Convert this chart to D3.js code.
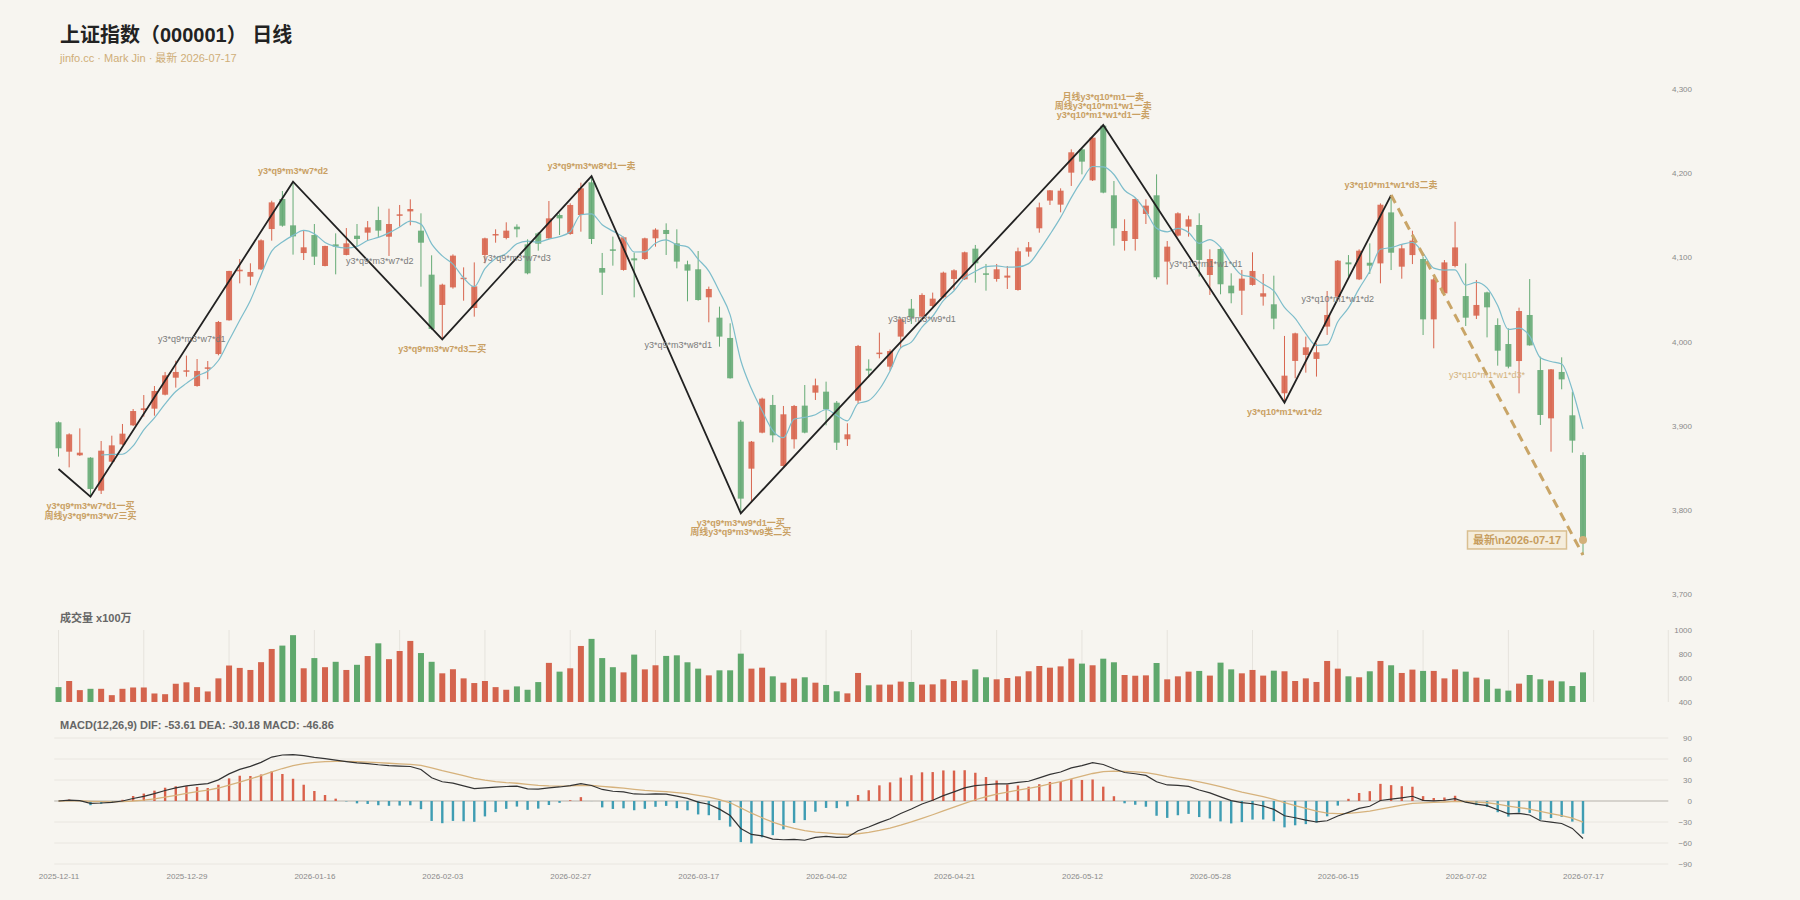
<!DOCTYPE html>
<html>
<head>
<meta charset="utf-8">
<script src="https://cdnjs.cloudflare.com/ajax/libs/d3/7.8.5/d3.min.js"></script>
<style>
  body { margin: 0; background: #f7f5f0; }
  svg text { font-family: "Liberation Sans", Arial, "Noto Sans CJK SC", sans-serif; }
</style>
</head>
<body>
<div id="chart"></div>
<script>
// trading days, grouped by month
const tradeMonths = [
  ['2025-12', [11, 12, 15, 16, 17, 18, 19, 22, 23, 24, 25, 26, 29, 30, 31]],
  ['2026-01', [5, 6, 7, 8, 9, 12, 13, 14, 15, 16, 19, 20, 21, 22, 23, 26, 27, 28, 29, 30]],
  ['2026-02', [2, 3, 4, 5, 6, 9, 10, 11, 12, 13, 24, 25, 26, 27]],
  ['2026-03', [2, 3, 4, 5, 6, 9, 10, 11, 12, 13, 16, 17, 18, 19, 20, 23, 24, 25, 26, 27, 30, 31]],
  ['2026-04', [1, 2, 3, 7, 8, 9, 10, 13, 14, 15, 16, 17, 20, 21, 22, 23, 24, 27, 28, 29, 30]],
  ['2026-05', [6, 7, 8, 11, 12, 13, 14, 15, 18, 19, 20, 21, 22, 25, 26, 27, 28, 29]],
  ['2026-06', [1, 2, 3, 4, 5, 8, 9, 10, 11, 12, 15, 16, 17, 18, 22, 23, 24, 25, 26, 29, 30]],
  ['2026-07', [1, 2, 3, 6, 7, 8, 9, 10, 13, 14, 15, 16, 17]]
];

const openPx = [
  3904.0, 3869.1, 3864.8, 3862.0, 3822.8, 3857.2, 3877.8, 3900.4, 3918.6, 3920.2,
  3936.8, 3957.0, 3964.2, 3947.1, 3967.7, 3985.1, 4025.2, 4083.4, 4077.0, 4085.7,
  4133.6, 4169.3, 4138.0, 4105.1, 4126.5, 4089.7, 4115.4, 4102.8, 4125.7, 4129.3,
  4144.3, 4124.5, 4149.5, 4154.6, 4131.7, 4079.4, 4043.4, 4064.3, 4074.2, 4039.8,
  4102.8, 4126.5, 4123.0, 4136.4, 4115.4, 4128.5, 4122.6, 4150.3, 4127.7, 4150.3,
  4189.1, 4087.3, 4109.5, 4085.0, 4098.8, 4098.0, 4122.6, 4132.5, 4116.6, 4091.7,
  4085.8, 4052.5, 4028.3, 4004.2, 3904.8, 3848.9, 3891.7, 3924.6, 3852.1, 3883.8,
  3923.8, 3939.2, 3940.4, 3927.3, 3883.8, 3929.7, 3967.7, 3985.2, 3970.1, 4005.8,
  4039.0, 4029.5, 4042.2, 4052.5, 4074.3, 4073.9, 4110.3, 4081.0, 4074.3, 4075.9,
  4061.2, 4106.8, 4134.5, 4167.4, 4162.6, 4200.6, 4228.3, 4191.5, 4256.4, 4173.7,
  4119.4, 4121.8, 4151.5, 4173.7, 4094.9, 4125.8, 4136.5, 4138.4, 4079.0, 4109.9,
  4066.4, 4060.4, 4067.2, 4053.3, 4044.2, 3938.5, 3976.9, 3984.0, 3979.3, 4017.7,
  4053.2, 4094.0, 4073.8, 4093.6, 4092.8, 4153.4, 4088.9, 4102.7, 4098.0, 4026.3,
  4057.2, 4089.7, 4054.0, 4030.7, 4058.4, 4019.6, 3997.0, 3976.8, 4031.5, 3966.1,
  3908.7, 3963.8, 3912.3, 3865.1
];

const highPx = [
  3905.0, 3890.9, 3896.8, 3862.5, 3881.8, 3888.1, 3902.0, 3919.8, 3936.4, 3947.1,
  3963.8, 3977.2, 3983.2, 3979.2, 3976.8, 4024.4, 4084.0, 4098.0, 4092.9, 4121.4,
  4167.3, 4178.8, 4189.9, 4132.5, 4139.6, 4113.8, 4128.5, 4134.8, 4139.6, 4143.1,
  4160.2, 4157.8, 4162.2, 4168.9, 4152.3, 4102.4, 4068.7, 4103.5, 4088.1, 4094.0,
  4123.4, 4133.3, 4141.6, 4139.2, 4121.4, 4130.1, 4166.9, 4152.3, 4164.2, 4188.7,
  4196.6, 4105.2, 4124.6, 4124.6, 4105.6, 4123.4, 4134.5, 4140.4, 4133.3, 4096.0,
  4107.5, 4065.2, 4041.4, 4021.6, 3906.8, 3881.8, 3933.3, 3936.5, 3923.4, 3924.6,
  3948.3, 3955.9, 3952.3, 3929.3, 3902.8, 3995.9, 3978.8, 4010.5, 3990.7, 4027.6,
  4050.5, 4057.3, 4058.1, 4083.0, 4085.8, 4106.8, 4114.7, 4092.1, 4092.1, 4089.7,
  4111.5, 4118.2, 4165.0, 4180.0, 4182.0, 4228.3, 4229.5, 4243.4, 4257.2, 4190.7,
  4145.2, 4170.1, 4168.9, 4198.6, 4119.4, 4153.5, 4149.5, 4152.3, 4109.5, 4110.7,
  4081.0, 4085.0, 4106.0, 4080.2, 4078.2, 4006.6, 4010.5, 4005.8, 3997.9, 4060.0,
  4096.8, 4102.7, 4109.5, 4116.6, 4164.1, 4174.0, 4115.8, 4131.6, 4100.8, 4075.8,
  4096.8, 4142.3, 4092.8, 4073.0, 4059.2, 4027.5, 4015.6, 4040.2, 4074.2, 3982.0,
  3967.3, 3981.2, 3940.4, 3868.3
];

const lowPx = [
  3863.2, 3850.5, 3864.0, 3815.7, 3818.8, 3856.4, 3877.0, 3899.6, 3910.7, 3911.9,
  3936.0, 3945.2, 3958.2, 3946.3, 3955.1, 3983.6, 4024.8, 4069.1, 4066.7, 4085.0,
  4119.8, 4136.4, 4103.2, 4096.8, 4090.9, 4089.3, 4079.8, 4102.4, 4112.7, 4119.8,
  4123.8, 4101.6, 4136.4, 4138.0, 4065.1, 4013.7, 4002.6, 4062.8, 4048.5, 4029.5,
  4092.9, 4117.4, 4121.4, 4123.8, 4079.8, 4107.9, 4121.8, 4126.5, 4126.9, 4130.5,
  4115.8, 4055.3, 4090.1, 4084.2, 4052.5, 4096.8, 4112.7, 4102.8, 4086.9, 4047.7,
  4048.5, 4022.8, 3993.9, 3955.9, 3795.9, 3808.6, 3890.9, 3880.2, 3851.3, 3872.7,
  3890.9, 3930.5, 3900.4, 3871.1, 3875.9, 3926.6, 3957.4, 3980.0, 3965.4, 3991.9,
  4020.8, 4028.7, 4040.6, 4051.3, 4061.2, 4073.1, 4069.9, 4060.4, 4071.1, 4062.4,
  4060.4, 4100.8, 4129.3, 4162.2, 4153.5, 4184.8, 4198.6, 4190.7, 4176.1, 4113.9,
  4108.0, 4108.0, 4139.6, 4073.9, 4067.6, 4124.6, 4124.6, 4077.1, 4055.3, 4056.1,
  4045.4, 4031.5, 4066.4, 4042.6, 4014.5, 3927.4, 3956.3, 3963.0, 3958.3, 4007.8,
  4052.4, 4077.0, 4073.0, 4080.2, 4069.1, 4084.9, 4074.6, 4092.0, 4007.7, 3991.9,
  4056.4, 4088.1, 4018.4, 4026.7, 4004.9, 3971.3, 3968.1, 3938.4, 3995.0, 3900.8,
  3869.1, 3943.2, 3867.9, 3746.3
];

const closePx = [
  3873.1, 3889.7, 3867.9, 3824.8, 3870.3, 3876.6, 3890.5, 3917.4, 3920.6, 3941.2,
  3959.8, 3963.8, 3965.8, 3965.0, 3969.3, 4023.2, 4083.8, 4085.3, 4082.6, 4120.2,
  4165.3, 4137.6, 4124.9, 4111.9, 4100.8, 4113.5, 4112.7, 4116.6, 4121.8, 4135.6,
  4131.7, 4139.6, 4151.1, 4157.4, 4117.4, 4014.9, 4067.5, 4102.0, 4075.8, 4065.5,
  4122.6, 4127.7, 4131.7, 4133.3, 4081.0, 4116.2, 4146.3, 4146.3, 4162.2, 4182.0,
  4121.8, 4081.8, 4107.9, 4123.8, 4096.4, 4122.6, 4132.9, 4127.7, 4094.9, 4084.2,
  4049.3, 4062.4, 4005.8, 3956.3, 3813.3, 3881.0, 3932.1, 3888.5, 3913.5, 3923.4,
  3891.7, 3947.9, 3919.4, 3879.8, 3889.7, 3994.7, 3965.4, 3986.8, 3988.7, 4026.4,
  4028.7, 4055.3, 4050.9, 4081.8, 4084.6, 4106.0, 4092.9, 4079.4, 4085.8, 4078.3,
  4107.2, 4111.9, 4159.4, 4179.6, 4179.2, 4224.8, 4213.7, 4242.2, 4176.9, 4134.5,
  4131.3, 4169.3, 4161.4, 4076.3, 4112.7, 4152.3, 4145.2, 4096.9, 4098.0, 4068.0,
  4057.3, 4074.7, 4083.8, 4057.3, 4027.2, 3959.4, 4009.7, 3993.1, 3987.2, 4031.5,
  4096.0, 4091.7, 4107.9, 4090.1, 4162.5, 4105.5, 4110.7, 4119.8, 4026.3, 4073.8,
  4094.0, 4111.8, 4028.3, 4043.4, 4040.6, 3989.1, 3970.1, 4036.2, 3995.4, 3912.7,
  3966.9, 3955.0, 3882.2, 3764.2
];

// volume in units of 100万
const volume = [
  524, 575, 499, 510, 510, 457, 510, 521, 521, 471,
  465, 552, 564, 524, 488, 597, 704, 684, 667, 732,
  842, 870, 957, 681, 766, 690, 735, 667, 710, 783,
  889, 757, 825, 909, 808, 735, 639, 673, 597, 558,
  575, 524, 502, 530, 502, 566, 726, 653, 681, 867,
  926, 766, 690, 647, 795, 672, 706, 784, 789, 731,
  678, 622, 664, 664, 803, 678, 686, 614, 561, 595,
  606, 561, 542, 489, 472, 642, 539, 545, 545, 570,
  567, 545, 547, 589, 575, 581, 672, 606, 589, 600,
  614, 656, 700, 686, 697, 761, 720, 706, 761, 731,
  625, 619, 622, 725, 589, 614, 653, 659, 620, 728,
  672, 639, 667, 620, 661, 656, 575, 597, 567, 742,
  678, 614, 606, 656, 742, 706, 642, 670, 659, 659,
  597, 672, 653, 603, 589, 511, 495, 553, 625, 589,
  578, 572, 533, 647
];

// zigzag pivots (bar index + price)
const pivotIdx = [0, 3, 22, 36, 50, 64, 98, 115, 125];
const pivotPrice = [3848.5, 3815.7, 4189.9, 4002.6, 4196.6, 3795.9, 4257.2, 3927.4, 4174.0];
const pendingIdx = [125, 143];
const pendingPrice = [4174.0, 3746.3];

// signal labels at pivots
const signalPivot = [3, 22, 36, 50, 64, 98, 115, 125];
const signalText = [
  ['y3*q9*m3*w7*d1一买', '周线y3*q9*m3*w7三买'],
  ['y3*q9*m3*w7*d2'],
  ['y3*q9*m3*w7*d3二买'],
  ['y3*q9*m3*w8*d1一卖'],
  ['y3*q9*m3*w9*d1一买', '周线y3*q9*m3*w9类二买'],
  ['月线y3*q10*m1一卖', '周线y3*q10*m1*w1一卖', 'y3*q10*m1*w1*d1一卖'],
  ['y3*q10*m1*w1*d2'],
  ['y3*q10*m1*w1*d3二卖']
];
// stroke labels (segment between pivots k and k+1, starting at pivot 1)
const strokeText = [
  'y3*q9*m3*w7*d1', 'y3*q9*m3*w7*d2', 'y3*q9*m3*w7*d3', 'y3*q9*m3*w8*d1',
  'y3*q9*m3*w9*d1', 'y3*q10*m1*w1*d1', 'y3*q10*m1*w1*d2'
];
const pendingText = 'y3*q10*m1*w1*d3*';

const priceTicks = [3700, 3800, 3900, 4000, 4100, 4200, 4300];
const volTicks = [400, 600, 800, 1000];
const macdTicks = [-90, -60, -30, 0, 30, 60, 90];
const dateTickIdx = [0, 12, 24, 36, 48, 60, 72, 84, 96, 108, 120, 132, 143];

const UP = '#d8664f', DOWN = '#66ab76';
const TAN = '#c9a063';

class KlineChart {
  constructor(targetDiv) {
    this.targetEle = targetDiv;
    d3.select(this.targetEle).selectAll('*').remove();

    this.dates = tradeMonths.flatMap(([m, days]) =>
      days.map(d => `${m}-${String(d).padStart(2, '0')}`));
    this.bars = this.dates.map((date, i) => ({
      i, date, o: openPx[i], h: highPx[i], l: lowPx[i], c: closePx[i], v: volume[i]
    }));

    this.svg = null;
    this.x = null;
    this.yPrice = null;
    this.yVol = null;
    this.yMacd = null;
  }

  setupPlot() {
    this.svg = d3.select(this.targetEle).append('svg')
      .attr('width', 1800)
      .attr('height', 900)
      .style('background', '#f7f5f0');

    // scales (x = bar index)
    this.x = d3.scaleLinear().domain([0, 143]).range([58.5, 1583]);
    this.yPrice = d3.scaleLinear().domain([3700, 4300]).range([594, 89]);
    this.yVol = d3.scaleLinear().domain([400, 1000]).range([702, 630]);
    this.yMacd = d3.scaleLinear().domain([-90, 90]).range([864, 738]);

    // titles
    this.svg.append('text')
      .attr('x', 60).attr('y', 42)
      .attr('font-size', 20).attr('font-weight', 'bold').attr('fill', '#222')
      .text('上证指数（000001） 日线');
    this.svg.append('text')
      .attr('x', 60).attr('y', 62)
      .attr('font-size', 11).attr('fill', '#cfae78')
      .text('jinfo.cc · Mark Jin · 最新 2026-07-17');

    this.svg.append('text')
      .attr('x', 60).attr('y', 622)
      .attr('font-size', 11).attr('font-weight', 'bold').attr('fill', '#666')
      .text('成交量 x100万');
    this.svg.append('text')
      .attr('x', 60).attr('y', 729)
      .attr('font-size', 11).attr('font-weight', 'bold').attr('fill', '#666')
      .text('MACD(12,26,9) DIF: -53.61 DEA: -30.18 MACD: -46.86');

    // right-side value axes
    const sideAxis = (scale, ticks, fmt) => {
      const g = this.svg.append('g')
        .attr('class', 'axis')
        .attr('transform', 'translate(1692,0)')
        .call(d3.axisLeft(scale).tickValues(ticks).tickFormat(fmt).tickSize(0).tickPadding(0));
      g.select('.domain').remove();
      g.selectAll('text').attr('font-size', 8).attr('fill', '#8a8a8a')
        .style('font-family', '"Liberation Sans", Arial, sans-serif');
    };
    sideAxis(this.yPrice, priceTicks, d3.format(','));
    sideAxis(this.yVol, volTicks, d3.format('d'));
    sideAxis(this.yMacd, macdTicks, d3.format('d'));

    // date axis
    const xAxis = this.svg.append('g')
      .attr('transform', 'translate(0,870)')
      .call(d3.axisBottom(this.x).tickValues(dateTickIdx)
        .tickFormat(i => this.dates[i]).tickSize(0).tickPadding(3));
    xAxis.select('.domain').remove();
    xAxis.selectAll('text').attr('font-size', 8).attr('fill', '#8a8a8a')
      .style('font-family', '"Liberation Sans", Arial, sans-serif');

    // volume grid
    const volGrid = d3.range(0, 145, 8).concat([151]);
    this.svg.append('g').selectAll('line')
      .data(volGrid).enter().append('line')
      .attr('x1', d => this.x(d)).attr('x2', d => this.x(d))
      .attr('y1', this.yVol(1000)).attr('y2', this.yVol(400))
      .attr('stroke', '#e6e3dd').attr('stroke-width', 1);

    // macd grid
    this.svg.append('g').selectAll('line')
      .data(macdTicks).enter().append('line')
      .attr('x1', this.x(-0.4)).attr('x2', this.x(151))
      .attr('y1', d => this.yMacd(d)).attr('y2', d => this.yMacd(d))
      .attr('stroke', d => d === 0 ? '#d6d3cd' : '#e9e6e0')
      .attr('stroke-width', d => d === 0 ? 2 : 1);
  }

  indicators() {
    const closes = closePx;
    const ma5 = closes.map((c, i) => i < 4 ? null : d3.mean(closes.slice(i - 4, i + 1)));

    const ema = (arr, n) => {
      const k = 2 / (n + 1);
      const out = [];
      arr.forEach((v, i) => out.push(i === 0 ? v : out[i - 1] + k * (v - out[i - 1])));
      return out;
    };
    const e12 = ema(closes, 12);
    const e26 = ema(closes, 26);
    const dif = e12.map((v, i) => v - e26[i]);
    const dea = ema(dif, 9);
    const hist = dif.map((v, i) => 2 * (v - dea[i]));
    return { ma5, dif, dea, hist };
  }

  draw() {
    const self = this;
    const ind = this.indicators();
    const bw = 6;

    // candles
    const candle = this.svg.append('g').selectAll('.candle')
      .data(this.bars).enter().append('g')
      .attr('class', 'candle');
    candle.append('line')
      .attr('x1', d => self.x(d.i)).attr('x2', d => self.x(d.i))
      .attr('y1', d => self.yPrice(d.h)).attr('y2', d => self.yPrice(d.l))
      .attr('stroke', d => d.c >= d.o ? UP : DOWN)
      .attr('stroke-width', 1);
    candle.append('rect')
      .attr('x', d => self.x(d.i) - bw / 2)
      .attr('width', bw)
      .attr('y', d => self.yPrice(Math.max(d.o, d.c)))
      .attr('height', d => Math.max(1.5, Math.abs(self.yPrice(d.o) - self.yPrice(d.c))))
      .attr('fill', d => d.c >= d.o ? UP : DOWN)
      .attr('fill-opacity', 0.9);

    // ma5
    const maLine = d3.line()
      .defined(d => d[1] !== null)
      .x(d => self.x(d[0])).y(d => self.yPrice(d[1]))
      .curve(d3.curveMonotoneX);
    this.svg.append('path')
      .datum(ind.ma5.map((v, i) => [i, v]))
      .attr('d', maLine)
      .attr('fill', 'none').attr('stroke', '#7dbdcb').attr('stroke-width', 1.2);

    // zigzag strokes
    const pivots = pivotIdx.map((i, k) => [i, pivotPrice[k]]);
    const zz = d3.line().x(d => self.x(d[0])).y(d => self.yPrice(d[1]));
    this.svg.append('path')
      .datum(pivots)
      .attr('d', zz)
      .attr('fill', 'none').attr('stroke', '#222').attr('stroke-width', 1.8)
      .attr('stroke-linejoin', 'miter');
    this.svg.append('path')
      .datum(pendingIdx.map((i, k) => [i, pendingPrice[k]]))
      .attr('d', zz)
      .attr('fill', 'none').attr('stroke', '#c9a567').attr('stroke-width', 3)
      .attr('stroke-dasharray', '9,6');

    // stroke labels at segment midpoints
    const lbl = this.svg.append('g');
    strokeText.forEach((t, k) => {
      const a = pivots[k + 1], b = pivots[k + 2];
      const falling = b[1] < a[1];
      lbl.append('text')
        .attr('x', (self.x(a[0]) + self.x(b[0])) / 2 + (falling ? 12 : 0))
        .attr('y', (self.yPrice(a[1]) + self.yPrice(b[1])) / 2)
        .attr('dy', '0.35em')
        .attr('text-anchor', 'middle')
        .attr('font-size', 9).attr('fill', '#7a7a7a')
        .text(t);
    });
    lbl.append('text')
      .attr('x', (self.x(pendingIdx[0]) + self.x(pendingIdx[1])) / 2)
      .attr('y', (self.yPrice(pendingPrice[0]) + self.yPrice(pendingPrice[1])) / 2)
      .attr('dy', '0.35em')
      .attr('text-anchor', 'middle')
      .attr('font-size', 9).attr('fill', '#d3b27c')
      .text(pendingText);

    // signal labels at pivots
    signalPivot.forEach((pi, k) => {
      const pos = pivotIdx.indexOf(pi);
      const price = pivotPrice[pos];
      const prev = pivotPrice[pos - 1];
      const isLow = price < prev;
      const lines = signalText[k];
      const px = self.x(pi), py = self.yPrice(price);
      lines.forEach((t, j) => {
        const ly = isLow ? py + 9.5 + j * 9.3 : py - 10.5 - (lines.length - 1 - j) * 8.7;
        lbl.append('text')
          .attr('x', px).attr('y', ly).attr('dy', '0.35em')
          .attr('text-anchor', 'middle')
          .attr('font-size', 9).attr('font-weight', 'bold').attr('fill', TAN)
          .text(t);
      });
    });

    // latest marker
    const last = this.bars[this.bars.length - 1];
    const lx = self.x(last.i), ly = self.yPrice(last.c);
    this.svg.append('rect')
      .attr('x', lx - 115.5).attr('y', ly - 9)
      .attr('width', 99).attr('height', 18)
      .attr('fill', '#f5eddc').attr('stroke', '#d9bf90').attr('stroke-width', 1.5);
    this.svg.append('text')
      .attr('x', lx - 66).attr('y', ly).attr('dy', '0.36em')
      .attr('text-anchor', 'middle')
      .attr('font-size', 11).attr('font-weight', 'bold').attr('fill', '#c79d5e')
      .text('最新\\n2026-07-17');
    this.svg.append('circle')
      .attr('cx', lx).attr('cy', ly).attr('r', 4)
      .attr('fill', '#d2b07a');

    // volume bars
    this.svg.append('g').selectAll('.vol')
      .data(this.bars).enter().append('rect')
      .attr('class', 'vol')
      .attr('x', d => self.x(d.i) - 3)
      .attr('width', 6)
      .attr('y', d => self.yVol(d.v))
      .attr('height', d => self.yVol(400) - self.yVol(d.v))
      .attr('fill', d => d.c >= d.o ? '#d4644d' : '#5fa86c');

    // macd histogram
    this.svg.append('g').selectAll('.hist')
      .data(ind.hist).enter().append('rect')
      .attr('class', 'hist')
      .attr('x', (d, i) => self.x(i) - 1.2)
      .attr('width', 2.4)
      .attr('y', d => self.yMacd(Math.max(0, d)))
      .attr('height', d => Math.abs(self.yMacd(d) - self.yMacd(0)))
      .attr('fill', d => d >= 0 ? '#d9604a' : '#3f9db3');

    const mLine = d3.line().x((d, i) => self.x(i)).y(d => self.yMacd(d));
    this.svg.append('path').datum(ind.dea).attr('d', mLine)
      .attr('fill', 'none').attr('stroke', '#d6b27c').attr('stroke-width', 1.3);
    this.svg.append('path').datum(ind.dif).attr('d', mLine)
      .attr('fill', 'none').attr('stroke', '#333').attr('stroke-width', 1.2);
  }
}

const chart = new KlineChart('#chart');
chart.setupPlot();
chart.draw();
</script>
</body>
</html>
